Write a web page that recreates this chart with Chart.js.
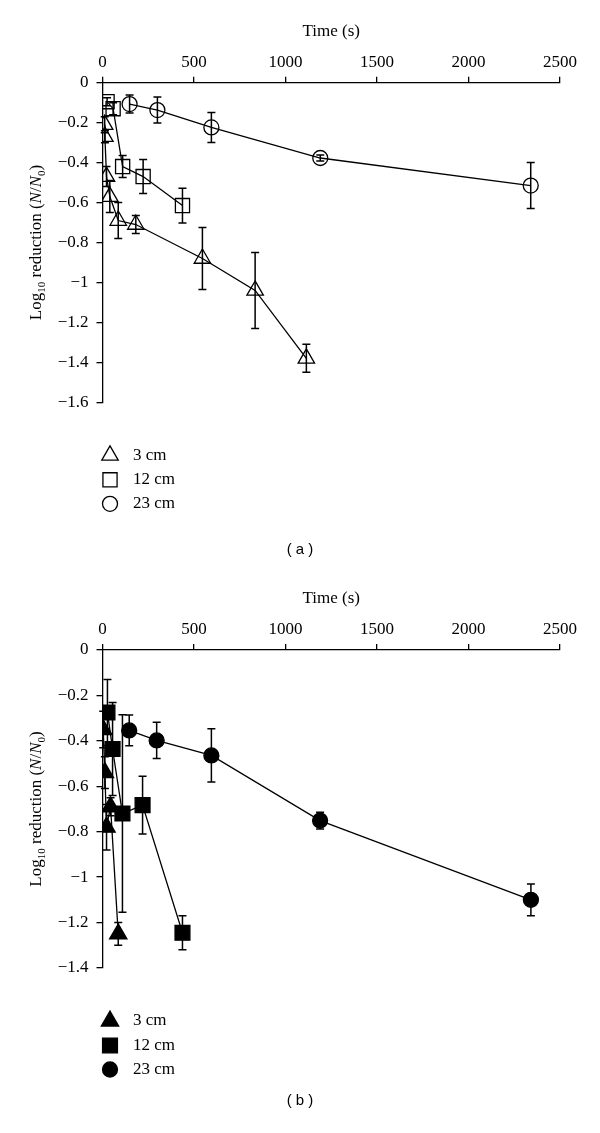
<!DOCTYPE html>
<html>
<head>
<meta charset="utf-8">
<script src="https://cdn.jsdelivr.net/npm/chart.js@4"></script>
<style>
  body { margin: 0; background: #fff; width: 600px; height: 1133px; position: relative; overflow: hidden; }
  .panel { position: absolute; left: 0; }
  .cap { position: absolute; left: 0; width: 600px; text-align: center; font: 15px "Liberation Sans", Arial, sans-serif; color: #000; }
</style>
</head>
<body>
<div class="panel" style="top:0"><canvas id="chartA" width="600" height="560"></canvas></div>
<div class="cap" style="top:540px">( a )</div>
<div class="panel" style="top:567px"><canvas id="chartB" width="600" height="566"></canvas></div>
<div class="cap" style="top:1091px">( b )</div>

<script>
/* Log reduction vs time, two panels */

const seriesLabels = ["3 cm", "12 cm", "23 cm"];
const xTicks = [0, 500, 1000, 1500, 2000, 2500];

// panel (a), open markers
const timeA3 = [12, 13, 22, 40, 86, 182, 546, 834, 1114];
const logA3 = [-0.21, -0.27, -0.47, -0.57, -0.69, -0.71, -0.88, -1.04, -1.38];
const errA3 = [0.04, 0.03, 0.05, 0.08, 0.09, 0.045, 0.155, 0.19, 0.07];

const timeA12 = [25, 58, 110, 222, 437];
const logA12 = [-0.095, -0.13, -0.42, -0.47, -0.615];
const errA12 = [0.02, 0.03, 0.055, 0.085, 0.087];

const timeA23 = [148, 300, 595, 1190, 2340];
const logA23 = [-0.107, -0.137, -0.224, -0.377, -0.515];
const errA23 = [0.045, 0.065, 0.075, 0.015, 0.115];

// panel (b), filled markers
const timeB3 = [4, 13, 22, 44, 86];
const logB3 = [-0.35, -0.54, -0.78, -0.69, -1.25];
const errB3 = [0.08, 0.07, 0.1, 0.04, 0.05];

const timeB12 = [27, 55, 109, 219, 437];
const logB12 = [-0.275, -0.436, -0.72, -0.683, -1.245];
const errB12 = [0.145, 0.205, 0.435, 0.127, 0.075];

const timeB23 = [146, 296, 595, 1189, 2341];
const logB23 = [-0.354, -0.398, -0.464, -0.751, -1.10];
const errB23 = [0.068, 0.08, 0.117, 0.037, 0.07];

const serif = '"Liberation Serif", "DejaVu Serif", serif';
Chart.defaults.font.family = serif;
Chart.defaults.font.size = 17;
Chart.defaults.color = "#000";

function fmtTick(v) {
  let s = String(Math.round(v * 10) / 10);
  return s.replace("-", "\u2212");
}

// vertical error bars with caps
const errorBars = {
  id: "errorBars",
  afterDatasetsDraw(chart) {
    let ctx = chart.ctx;
    let xs = chart.scales.x, ys = chart.scales.y;
    ctx.save();
    ctx.strokeStyle = "#000";
    ctx.lineWidth = 1.5;
    chart.data.datasets.forEach(function (ds) {
      ds.data.forEach(function (p, i) {
        let e = ds.errs[i];
        let x = xs.getPixelForValue(p.x);
        let y1 = ys.getPixelForValue(p.y + e);
        let y2 = ys.getPixelForValue(p.y - e);
        ctx.beginPath();
        ctx.moveTo(x, y1); ctx.lineTo(x, y2);
        ctx.moveTo(x - 4, y1); ctx.lineTo(x + 4, y1);
        ctx.moveTo(x - 4, y2); ctx.lineTo(x + 4, y2);
        ctx.stroke();
      });
    });
    ctx.restore();
  }
};

// rotated y title with sub/italic parts
const yTitle = {
  id: "yTitle",
  afterDraw(chart) {
    let ctx = chart.ctx;
    let parts = [
      { t: "Log" }, { t: "10", sub: true }, { t: " reduction (" },
      { t: "N", it: true }, { t: "/" }, { t: "N", it: true }, { t: "0", sub: true }, { t: ")" }
    ];
    let fontOf = (p) => (p.it ? "italic " : "") + (p.sub ? "11px " : "17px ") + serif;
    let w = 0;
    parts.forEach(function (p) { ctx.font = fontOf(p); p.w = ctx.measureText(p.t).width; w += p.w; });
    let area = chart.chartArea;
    ctx.save();
    ctx.translate(37, (area.top + area.bottom) / 2);
    ctx.rotate(-Math.PI / 2);
    ctx.fillStyle = "#000";
    ctx.textBaseline = "middle";
    let x = -w / 2;
    parts.forEach(function (p) {
      ctx.font = fontOf(p);
      ctx.fillText(p.t, x, p.sub ? 5 : 0);
      x += p.w;
    });
    ctx.restore();
  }
};

// legend stacked under the plot
const stackLegend = {
  id: "stackLegend",
  afterDraw(chart) {
    let ctx = chart.ctx;
    let base = chart.chartArea.bottom;
    let offs = [53, 77.5, 101.5];
    chart.data.datasets.forEach(function (ds, i) {
      let y = base + offs[i];
      ctx.save();
      ctx.fillStyle = ds.pointBackgroundColor;
      ctx.strokeStyle = "#000";
      ctx.lineWidth = 1.3;
      Chart.helpers.drawPoint(ctx, { pointStyle: ds.pointStyle, rotation: 0, radius: ds.pointRadius, borderWidth: 1.3 }, 110, y);
      ctx.fillStyle = "#000";
      ctx.font = "17px " + serif;
      ctx.textBaseline = "middle";
      ctx.fillText(ds.label, 133, y);
      ctx.restore();
    });
  }
};

function makeSet(label, t, v, e, style, radius, fill) {
  return {
    label: label,
    data: t.map((x, i) => ({ x: x, y: v[i] })),
    errs: e,
    showLine: true,
    borderColor: "#000",
    borderWidth: 1.3,
    pointStyle: style,
    pointRadius: radius,
    pointHoverRadius: radius,
    pointBorderWidth: 1.3,
    pointBorderColor: "#000",
    pointBackgroundColor: fill
  };
}

function buildChart(id, sets, yMin, padBottom, xHeight) {
  new Chart(id, {
    type: "scatter",
    data: { datasets: sets },
    options: {
      responsive: false,
      animation: false,
      layout: { padding: { left: 0, top: 0, right: 40, bottom: padBottom } },
      plugins: { legend: { display: false }, tooltip: { enabled: false } },
      scales: {
        x: {
          type: "linear",
          position: "top",
          min: 0, max: 2500,
          afterBuildTicks: (s) => { s.ticks = xTicks.map((v) => ({ value: v })); },
          ticks: { padding: 4, maxRotation: 0, font: { size: 17 }, callback: (v) => String(v) },
          grid: { drawOnChartArea: false, drawTicks: true, tickLength: 6, color: "#000", lineWidth: 1.3 },
          border: { display: true, color: "#000", width: 1.3 },
          title: { display: true, text: "Time (s)", font: { size: 17 }, padding: { top: 21, bottom: 0 } },
          afterFit: (s) => { s.height = xHeight; }
        },
        y: {
          min: yMin, max: 0,
          ticks: { stepSize: 0.2, padding: 8, font: { size: 17 }, callback: fmtTick },
          grid: { drawOnChartArea: false, drawTicks: true, tickLength: 6, color: "#000", lineWidth: 1.3 },
          border: { display: true, color: "#000", width: 1.3 },
          afterFit: (s) => { s.width = 102.5; }
        }
      }
    },
    plugins: [errorBars, yTitle, stackLegend]
  });
}

buildChart("chartA", [
  makeSet(seriesLabels[0], timeA3, logA3, errA3, "triangle", 9.5, "rgba(0,0,0,0)"),
  makeSet(seriesLabels[1], timeA12, logA12, errA12, "rect", 10, "rgba(0,0,0,0)"),
  makeSet(seriesLabels[2], timeA23, logA23, errA23, "circle", 7.5, "rgba(0,0,0,0)")
], -1.6, 157.7, 82.7);

buildChart("chartB", [
  makeSet(seriesLabels[0], timeB3, logB3, errB3, "triangle", 10, "#000"),
  makeSet(seriesLabels[1], timeB12, logB12, errB12, "rect", 10.5, "#000"),
  makeSet(seriesLabels[2], timeB23, logB23, errB23, "circle", 7.5, "#000")
], -1.4, 165, 83);
</script>
</body>
</html>
